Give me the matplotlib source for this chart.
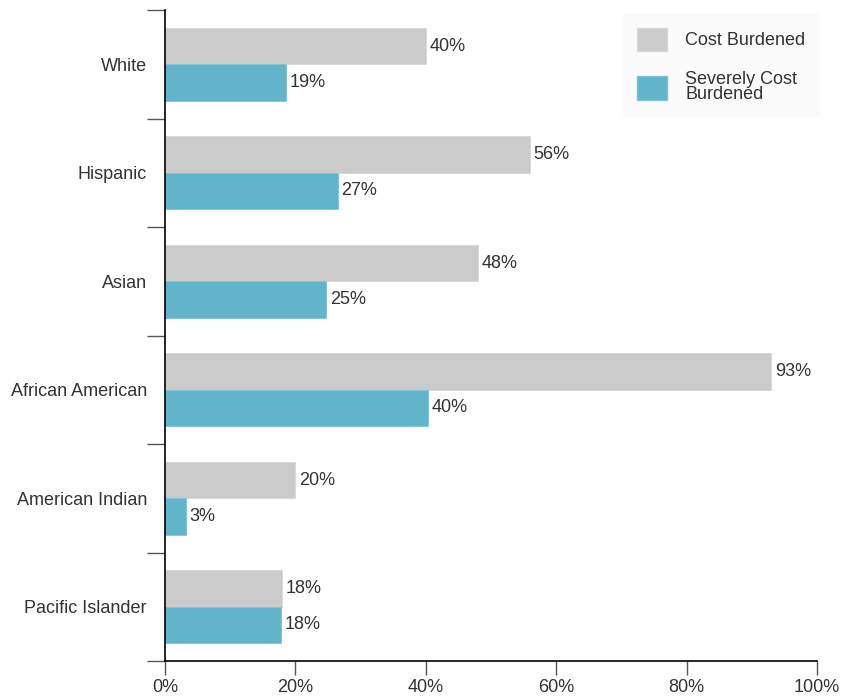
import numpy as np
import matplotlib.pyplot as plt
from matplotlib.patches import Patch

plt.rcParams['font.family'] = ['Liberation Sans', 'DejaVu Sans']

groups = ['White', 'Hispanic', 'Asian', 'African American', 'American Indian', 'Pacific Islander']
cost_burdened = [40, 56, 48, 93, 20, 18]
severely_burdened = [18.6, 26.5, 24.7, 40.3, 3.2, 17.8]
cost_labels = ['40%', '56%', '48%', '93%', '20%', '18%']
severe_labels = ['19%', '27%', '25%', '40%', '3%', '18%']
xticks = [0, 20, 40, 60, 80, 100]

gray = '#cbcbcb'
blue = '#62b4cb'
txt = '#333333'
fs = 13

fig = plt.figure(figsize=(8.43, 6.96), dpi=100)
ax = fig.add_axes([165 / 843, 35 / 696, 652 / 843, 651 / 696])

y = np.arange(len(groups))
h = 0.335
ax.barh(y - h / 2, cost_burdened, height=h, color=gray, edgecolor='#d8d8d8', linewidth=0.6)
ax.barh(y + h / 2, severely_burdened, height=h, color=blue, edgecolor='#7cc4d6', linewidth=0.6)

for yi, v, lab in zip(y, cost_burdened, cost_labels):
    ax.text(v + 0.55, yi - h / 2, lab, va='center', ha='left', fontsize=fs, color=txt)
for yi, v, lab in zip(y, severely_burdened, severe_labels):
    ax.text(v + 0.55, yi + h / 2, lab, va='center', ha='left', fontsize=fs, color=txt)

ax.set_xlim(0, 100)
ax.set_ylim(len(groups) - 0.5, -0.5)
ax.set_xticks(xticks)
ax.set_xticklabels([f'{t}%' for t in xticks], fontsize=fs, color=txt)
ax.set_yticks(y)
ax.set_yticklabels(groups, fontsize=fs, color=txt)
ax.set_yticks(np.arange(-0.5, len(groups)), minor=True)
ax.tick_params(axis='y', which='major', length=0, pad=13)
ax.tick_params(axis='y', which='minor', length=13, width=1, color='#555555', direction='out')
ax.tick_params(axis='x', length=10, width=1, color='#555555', pad=3)

for s in ['top', 'right']:
    ax.spines[s].set_visible(False)
ax.spines['left'].set_color('black')
ax.spines['bottom'].set_color('black')
ax.spines['left'].set_linewidth(1.2)
ax.spines['bottom'].set_linewidth(1.2)

handles = [Patch(facecolor=gray, edgecolor='#d8d8d8'),
           Patch(facecolor=blue, edgecolor='#7cc4d6')]
leg = ax.legend(handles, ['Cost Burdened', 'Severely Cost\nBurdened'],
                loc='upper right', bbox_to_anchor=(1.004, 0.995), fontsize=fs,
                handlelength=1.65, handleheight=1.65, handletextpad=1.0,
                labelspacing=1.1, borderpad=0.8, borderaxespad=0, frameon=True, fancybox=False)
leg.get_frame().set_facecolor('#fafafa')
leg.get_frame().set_edgecolor('none')
for t in leg.get_texts():
    t.set_color(txt)
    t.set_linespacing(0.8)

fig.savefig('out.png', dpi=100)
